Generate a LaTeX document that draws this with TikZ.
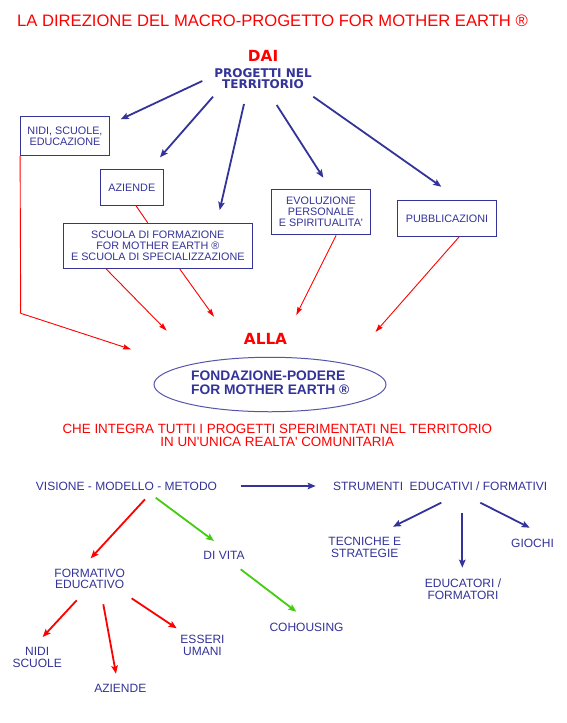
\documentclass[tikz,border=0pt]{standalone}
\usepackage{fontspec}
\setmainfont{Liberation Sans}[Ligatures=TeXOff]
\newfontfamily\vbfam{DejaVu Sans}[Ligatures=TeXOff]
\usetikzlibrary{arrows.meta,shapes.geometric,calc}
\definecolor{navy}{RGB}{51,51,153}
\definecolor{navyl}{RGB}{85,85,170}
\definecolor{rred}{RGB}{255,0,0}
\definecolor{ggreen}{RGB}{68,204,17}
\tikzset{
  txt/.style={inner sep=0pt, text=navy, font=\fontsize{12}{11.6}\selectfont, align=center},
  boxtxt/.style={draw=navy, line width=1.2pt, inner sep=0pt, text=navy, align=center,
                 font=\fontsize{10.8}{11.2}\selectfont},
  bluearrow/.style={draw=navy, line width=1.8pt, -{Stealth[length=8pt,width=6.5pt,inset=1.5pt]}},
  thinred/.style={draw=rred, line width=0.9pt},
  thinredarrow/.style={thinred, -{Stealth[length=8pt,width=5pt,inset=1pt]}},
  redarrow/.style={draw=rred, line width=1.8pt, -{Stealth[length=8pt,width=6.5pt,inset=1.5pt]}},
  greenarrow/.style={draw=ggreen, line width=1.8pt, -{Stealth[length=8pt,width=6.5pt,inset=1.5pt]}},
}
\begin{document}
\begin{tikzpicture}[x=1pt,y=-1pt]
\useasboundingbox (0,0) rectangle (567,723);
\fill[white] (0,0) rectangle (567,723);

% ---------- title ----------
\node[anchor=base west, inner sep=0pt, text=rred, font=\fontsize{16.6}{18}\selectfont] (title) at (17,26)
  {LA DIREZIONE DEL MACRO-PROGETTO FOR MOTHER EARTH ®};

% ---------- DAI ----------
\node[anchor=base, inner sep=0pt, text=rred, font=\vbfam\bfseries\fontsize{15.3}{16}\selectfont] (dai) at (263.1,61) {DAI};
\node[inner sep=0pt, text=navy, align=center, font=\vbfam\bfseries\fontsize{12}{11.3}\selectfont] (prog) at (263,78.8)
  {PROGETTI NEL\\TERRITORIO};

% ---------- boxes ----------
\node[boxtxt, minimum width=88.6pt, minimum height=38.6pt] (nidi) at (65,136) {NIDI, SCUOLE,\\EDUCAZIONE};
\node[boxtxt, minimum width=63pt, minimum height=36pt] (az) at (131.8,187.3) {AZIENDE};
\node[boxtxt, minimum width=189pt, minimum height=45pt] (scuola) at (157.8,245.8)
  {SCUOLA DI FORMAZIONE\\FOR MOTHER EARTH ®\\E SCUOLA DI SPECIALIZZAZIONE};
\node[boxtxt, minimum width=99.4pt, minimum height=45.4pt] (evol) at (321,212)
  {EVOLUZIONE\\PERSONALE\\E SPIRITUALITA'};
\node[boxtxt, minimum width=99.4pt, minimum height=36pt] (pubb) at (447,218.3) {PUBBLICAZIONI};

% ---------- arrow end points (upper) ----------
\coordinate (a1s) at (202.3,81);   \coordinate (a1e) at (120.7,119.3);
\coordinate (a2s) at (213,96.7);   \coordinate (a2e) at (160,157.3);
\coordinate (a3s) at (244,104);    \coordinate (a3e) at (219.7,210);
\coordinate (a4s) at (276.7,105);  \coordinate (a4e) at (323.3,177.7);
\coordinate (a5s) at (313.3,96.7); \coordinate (a5e) at (441.3,186.7);

\draw[bluearrow] (a1s) -- (a1e);
\draw[bluearrow] (a2s) -- (a2e);
\draw[bluearrow] (a3s) -- (a3e);
\draw[bluearrow] (a4s) -- (a4e);
\draw[bluearrow] (a5s) -- (a5e);

% ---------- ALLA + ellipse ----------
\node[anchor=base, inner sep=0pt, text=rred, font=\vbfam\bfseries\fontsize{15.3}{16}\selectfont] (alla) at (265.5,344) {ALLA};
\node[ellipse, draw=navyl, line width=1pt, minimum width=232pt, minimum height=54.5pt, inner sep=0pt] (fond) at (270,384.5) {};
\node[anchor=west, inner sep=0pt, text=navy, align=left, font=\bfseries\fontsize{13.8}{14}\selectfont] (fondtxt) at (191,383)
  {FONDAZIONE-PODERE\\FOR MOTHER EARTH ®};

% ---------- red connectors (upper) ----------
\coordinate (r1b) at (20.7,313.3);
\coordinate (r1e) at (131,349.3);
\draw[thinredarrow] (nidi.south west) -- (r1b) -- (r1e);
\draw[thinred] ($(az.south west)+(36.4,0)$) -- ($(scuola.north west)+(85,0)$);
\coordinate (r3e) at (166.7,330.7);
\coordinate (r4e) at (214,316.7);
\draw[thinredarrow] ($(scuola.south west)+(43.4,0)$) -- (r3e);
\draw[thinredarrow] ($(scuola.south west)+(117,0)$) -- (r4e);
\coordinate (r5e) at (296.3,315);
\draw[thinredarrow] ($(evol.south west)+(65.4,0)$) -- (r5e);
\coordinate (r6e) at (375.5,332);
\draw[thinredarrow] ($(pubb.south west)+(62.4,0)$) -- (r6e);

% ---------- integra ----------
\node[inner sep=0pt, text=rred, align=center, font=\fontsize{13.4}{13.4}\selectfont] (integra) at (277.3,435.3)
  {CHE INTEGRA TUTTI I PROGETTI SPERIMENTATI NEL TERRITORIO\\IN UN'UNICA REALTA' COMUNITARIA};

% ---------- lower section ----------
\node[txt, anchor=base] (vis) at (126.5,490.3) {VISIONE - MODELLO - METODO};
\node[txt, anchor=base] (stru) at (440.2,490.3) {STRUMENTI\ \ EDUCATIVI / FORMATIVI};
\node[txt] (form) at (89.7,579) {FORMATIVO\\EDUCATIVO};
\node[txt, anchor=base] (divita) at (224,559.3) {DI VITA};
\node[txt, anchor=base] (coh) at (306.5,631) {COHOUSING};
\node[txt] (nidis) at (37.2,657.3) {NIDI\\SCUOLE};
\node[txt, anchor=base] (azl) at (120.3,692.7) {AZIENDE};
\node[txt] (ess) at (202.5,645.5) {ESSERI\\UMANI};
\node[txt] (tec) at (364.8,547.3) {TECNICHE E\\STRATEGIE};
\node[txt, anchor=base] (gio) at (532.5,547.7) {GIOCHI};
\node[txt] (edu) at (463,589) {EDUCATORI /\\FORMATORI};

\coordinate (b1s) at (240.7,486);   \coordinate (b1e) at (315.7,486);
\coordinate (l1s) at (145,499.3);   \coordinate (l1e) at (90.7,558.3);
\coordinate (g1s) at (155.7,497.7); \coordinate (g1e) at (214,541);
\coordinate (g2s) at (240.7,569.3); \coordinate (g2e) at (296.3,611.7);
\coordinate (l2s) at (76.7,600.3);  \coordinate (l2e) at (42.7,637);
\coordinate (l3s) at (103.3,604.3); \coordinate (l3e) at (116,673.7);
\coordinate (l4s) at (131.7,598.3); \coordinate (l4e) at (176.7,628.3);
\coordinate (s1s) at (441.3,502.7); \coordinate (s1e) at (393,526.7);
\coordinate (s2s) at (462.3,513.3); \coordinate (s2e) at (462.3,567.7);
\coordinate (s3s) at (480.3,502.7); \coordinate (s3e) at (529.7,527.7);

\draw[bluearrow] (b1s) -- (b1e);
\draw[redarrow] (l1s) -- (l1e);
\draw[greenarrow] (g1s) -- (g1e);
\draw[greenarrow] (g2s) -- (g2e);
\draw[redarrow] (l2s) -- (l2e);
\draw[redarrow] (l3s) -- (l3e);
\draw[redarrow] (l4s) -- (l4e);
\draw[bluearrow] (s1s) -- (s1e);
\draw[bluearrow] (s2s) -- (s2e);
\draw[bluearrow] (s3s) -- (s3e);
\end{tikzpicture}
\end{document}
